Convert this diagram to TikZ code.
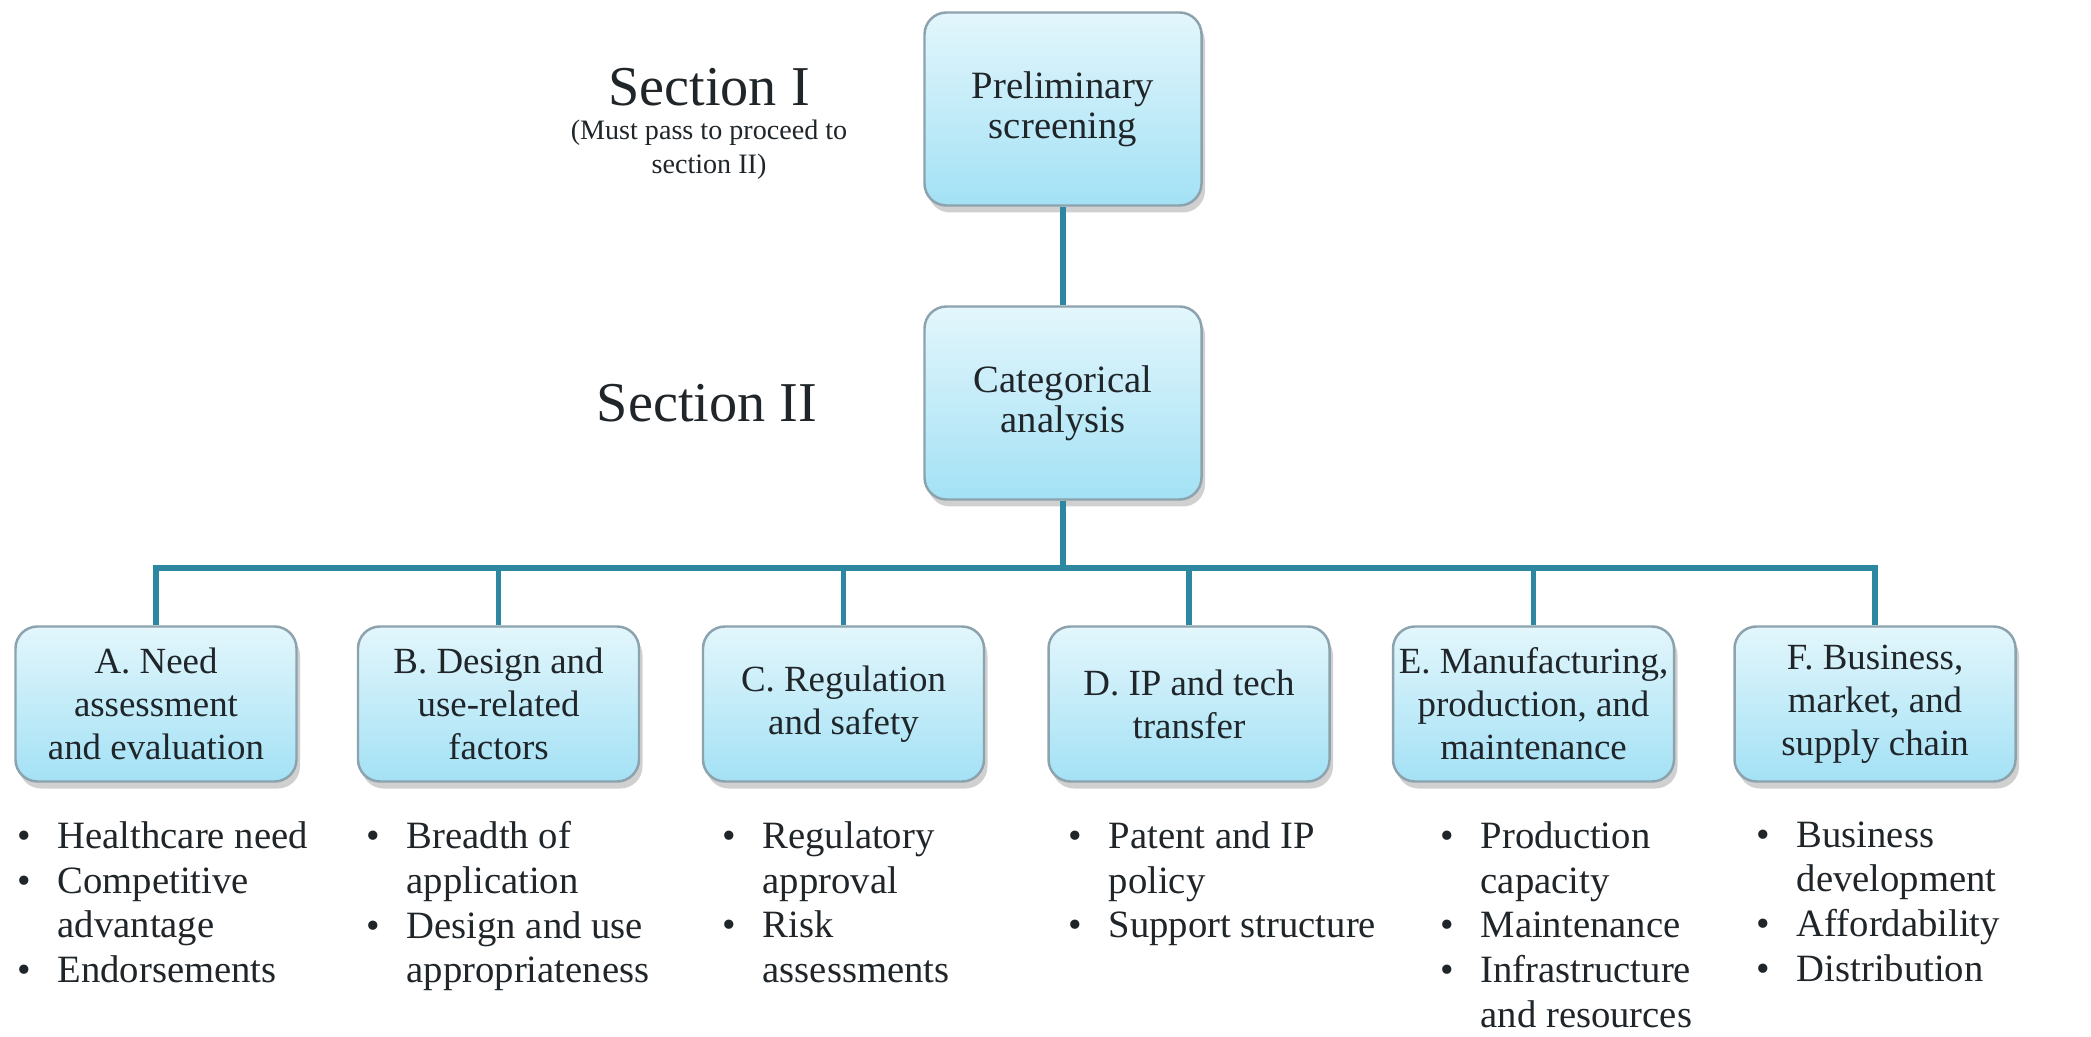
\documentclass[tikz,border=0pt]{standalone}
\usepackage{fontspec}
\setmainfont{Liberation Serif}
\usetikzlibrary{positioning,shadows}

\definecolor{boxtop}{HTML}{E3F6FC}
\definecolor{boxbottom}{HTML}{A3E1F5}
\definecolor{boxedge}{HTML}{8CA3AE}
\definecolor{linkteal}{HTML}{2E87A0}
\definecolor{ink}{HTML}{1F2529}

\tikzset{
  stagebox/.style={draw=boxedge, line width=0.7pt, rounded corners=0.22cm,
    top color=boxtop, bottom color=boxbottom, text=ink, align=center,
    inner sep=0pt, minimum width=2.81cm, minimum height=1.55cm,
    font=\fontsize{10.5}{12.2}\selectfont,
    drop shadow={shadow xshift=0.35mm, shadow yshift=-0.7mm, opacity=0.3, fill=black!60}},
  topbox/.style={stagebox, minimum width=2.77cm, minimum height=1.93cm,
    font=\fontsize{11}{11.5}\selectfont},
  link/.style={draw=linkteal, line width=1.6pt},
  pointlist/.style={anchor=north west, inner sep=0pt, align=left, text=ink,
    font=\fontsize{11}{12.7}\selectfont},
  sectiontitle/.style={text=ink, inner sep=0pt, font=\fontsize{16}{19}\selectfont},
  sectionnote/.style={text=ink, inner sep=0pt, align=center, font=\fontsize{8}{9.7}\selectfont},
}
\newcommand{\blt}{\makebox[0.4cm][l]{\textbullet}}
\newcommand{\bcont}{\hspace*{0.4cm}}

\begin{document}
\begin{tikzpicture}
  \path[fill=white,use as bounding box] (0,0) rectangle (20.91,10.36);

  \node[sectiontitle] (sec1) at (7.09,9.49) {Section I};
  \node[sectionnote] (sec1note) at (7.09,8.86) {(Must pass to proceed to\\section II)};
  \node[sectiontitle] (sec2) at (7.07,6.33) {Section II};

  \node[topbox] (prelim) at (10.63,9.27) {Preliminary\\screening};
  \node[topbox] (categ) at (10.63,6.33) {Categorical\\analysis};
  \coordinate (bar) at (10.63,4.68);

  \node[stagebox] (needbox) at (1.56,3.32) {A. Need\\assessment\\and evaluation};
  \node[stagebox] (designbox) at (4.985,3.32) {B. Design and\\use-related\\factors};
  \node[stagebox] (regbox) at (8.435,3.32) {C. Regulation\\and safety};
  \node[stagebox] (ipbox) at (11.89,3.32) {D. IP and tech\\transfer};
  \node[stagebox] (mfgbox) at (15.335,3.32) {E. Manufacturing,\\production, and\\maintenance};
  \node[stagebox] (bizbox) at (18.75,3.32) {F. Business,\\market, and\\supply chain};

  \draw[link] (prelim) -- (categ);
  \foreach \b in {needbox,designbox,regbox,ipbox,mfgbox,bizbox}
    \draw[link] (categ.south) -- (categ.south |- bar) -| (\b.north);

  \node[pointlist] (needlist) at (0.17,2.15) {\blt Healthcare need\\ \blt Competitive\\ \bcont advantage\\ \blt Endorsements};
  \node[pointlist] (designlist) at (3.66,2.15) {\blt Breadth of\\ \bcont application\\ \blt Design and use\\ \bcont appropriateness};
  \node[pointlist] (reglist) at (7.22,2.15) {\blt Regulatory\\ \bcont approval\\ \blt Risk\\ \bcont assessments};
  \node[pointlist] (iplist) at (10.68,2.15) {\blt Patent and IP\\ \bcont policy\\ \blt Support structure};
  \node[pointlist] (mfglist) at (14.40,2.15) {\blt Production\\ \bcont capacity\\ \blt Maintenance\\ \blt Infrastructure\\ \bcont and resources};
  \node[pointlist] (bizlist) at (17.56,2.15) {\blt Business\\ \bcont development\\ \blt Affordability\\ \blt Distribution};
\end{tikzpicture}
\end{document}
